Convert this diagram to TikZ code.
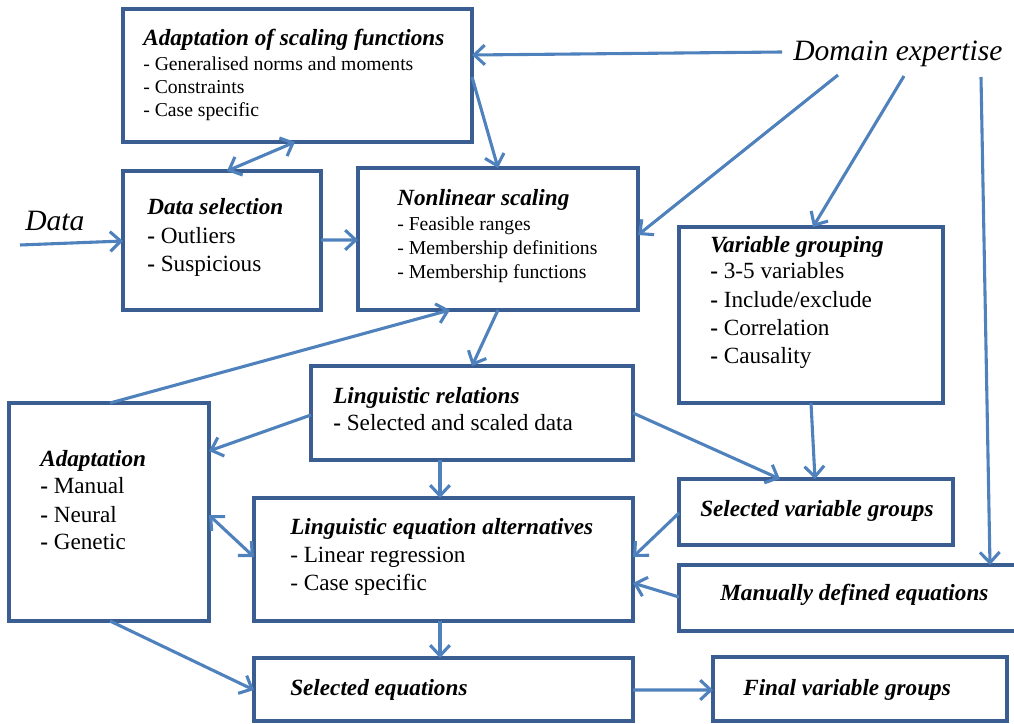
\documentclass[tikz,border=0pt]{standalone}
\usepackage{fontspec}
\setmainfont{Liberation Serif}
\usetikzlibrary{arrows.meta,calc,fit}
\definecolor{boxblue}{RGB}{58,94,145}
\definecolor{arrowblue}{RGB}{79,129,189}

\begin{document}
\begin{tikzpicture}[x=0.025cm,y=-0.025cm,
  >={Straight Barb[length=7.5pt,width=14pt]},
  box/.style={draw=boxblue,line width=2.6pt,inner sep=0pt,outer sep=0pt,fit={#1}},
  title/.style={anchor=base west,inner sep=0pt,font=\fontsize{16.5}{20}\selectfont\bfseries\itshape},
  item/.style={anchor=base west,inner sep=0pt,font=\fontsize{14}{17}\selectfont},
  bigitem/.style={anchor=base west,inner sep=0pt,font=\fontsize{16.5}{20}\selectfont},
  free/.style={anchor=base west,inner sep=0pt,font=\fontsize{21}{25}\selectfont\itshape},
  arr/.style={draw=arrowblue,line width=2.2pt,->},
  darr/.style={draw=arrowblue,line width=2.2pt,<->}]

% Frame
\useasboundingbox (0,0) rectangle (1014,724);
\clip (0,0) rectangle (1014,724);

% Adaptation of scaling functions
\node[box={(123,9) (472,142)}] (scal) {};
\node[title] (scalt) at (143,45) {Adaptation of scaling functions};
\foreach \y/\txt [count=\i] in {70/Generalised norms and moments,93/Constraints,116/Case specific}
  \node[item] (scal\i) at (143,\y) {- \txt};

% Data selection
\node[box={(123,171) (321,310)}] (dsel) {};
\node[title] (dselt) at (147,214) {Data selection};
\foreach \y/\txt [count=\i] in {243/Outliers,271/Suspicious}
  \node[bigitem] (dsel\i) at (147,\y) {\textbf{-} \txt};

% Nonlinear scaling
\node[box={(358,168) (638,310)}] (nlin) {};
\node[title] (nlint) at (397,205) {Nonlinear scaling};
\foreach \y/\txt [count=\i] in {230/Feasible ranges,254/Membership definitions,278/Membership functions}
  \node[item] (nlin\i) at (397,\y) {- \txt};

% Variable grouping
\node[box={(679,227) (943,403)}] (vgrp) {};
\node[title] (vgrpt) at (710,252) {Variable grouping};
\foreach \y/\txt [count=\i] in {278/3-5 variables,307/{Include/exclude},335/Correlation,363/Causality}
  \node[bigitem] (vgrp\i) at (710,\y) {\textbf{-} \txt};

% Linguistic relations
\node[box={(311,366) (633,460)}] (lrel) {};
\node[title] (lrelt) at (333,403) {Linguistic relations};
\node[bigitem] (lrel1) at (333,430) {\textbf{-} Selected and scaled data};

% Adaptation
\node[box={(9,403) (209,621)}] (adap) {};
\node[title] (adapt) at (40,466) {Adaptation};
\foreach \y/\txt [count=\i] in {493/Manual,522/Neural,549/Genetic}
  \node[bigitem] (adap\i) at (40,\y) {\textbf{-} \txt};

% Linguistic equation alternatives
\node[box={(254,498) (633,621)}] (leq) {};
\node[title] (leqt) at (290,534) {Linguistic equation alternatives};
\foreach \y/\txt [count=\i] in {562/Linear regression,590/Case specific}
  \node[bigitem] (leq\i) at (290,\y) {- \txt};

% Single line boxes
\node[box={(254,658) (633,721)}] (seq) {};
\node[title] (seqt) at (290,695) {Selected equations};
\node[box={(679,479) (953,545)}] (svg) {};
\node[title] (svgt) at (700,516) {Selected variable groups};
\node[box={(679,565) (1017,631)}] (mdeq) {};
\node[title] (mdeqt) at (720,600) {Manually defined equations};
\node[box={(713,657) (1007,721)}] (fvg) {};
\node[title] (fvgt) at (743,695) {Final variable groups};

% Inputs
\node[free] (dom) at (793,60) {Domain expertise};
\node[free] (data) at (25,230) {Data};

% Arrows
\draw[arr] ($(dom.base west)+(-11,-8)$) -- ($(scal.north east)+(0,46)$);
\draw[arr] ($(dom.base west)+(45,15)$) -- ($(nlin.north east)+(0,67)$);
\draw[arr] ($(dom.base west)+(111,16)$) -- ($(vgrp.north west)+(134,0)$);
\draw[arr] ($(dom.base west)+(188,17)$) -- ($(mdeq.north west)+(311,0)$);
\draw[arr] ($(data.base west)+(-5,15)$) -- ($(dsel.north west)+(0,70)$);
\draw[arr] ($(scal.north east)+(0,68)$) -- ($(nlin.north west)+(140,0)$);
\draw[darr] ($(scal.south west)+(172,0)$) -- ($(dsel.north west)+(104,0)$);
\draw[arr] ($(dsel.north east)+(0,69)$) -- ($(nlin.north west)+(0,72)$);
\draw[arr] ($(adap.north west)+(101,0)$) -- ($(nlin.south west)+(92,0)$);
\draw[arr] ($(nlin.south west)+(140,0)$) -- ($(lrel.north west)+(161,0)$);
\draw[arr] ($(lrel.north west)+(0,49)$) -- ($(adap.north east)+(0,48)$);
\draw[arr] ($(lrel.south west)+(129,0)$) -- ($(leq.north west)+(186,0)$);
\draw[darr] ($(adap.north east)+(0,112)$) -- ($(leq.north west)+(0,59)$);
\draw[arr] ($(lrel.north east)+(0,47)$) -- ($(svg.north west)+(101,0)$);
\draw[arr] ($(vgrp.south west)+(132,0)$) -- ($(svg.north west)+(136,0)$);
\draw[arr] ($(svg.north west)+(0,34)$) -- ($(leq.north east)+(0,59)$);
\draw[arr] ($(mdeq.north west)+(0,32)$) -- ($(leq.north east)+(0,85)$);
\draw[arr] ($(leq.south west)+(186,0)$) -- ($(seq.north west)+(186,0)$);
\draw[arr] ($(adap.south west)+(101,0)$) -- ($(seq.north west)+(0,32)$);
\draw[arr] ($(seq.north east)+(0,32)$) -- ($(fvg.north west)+(0,33)$);

\end{tikzpicture}
\end{document}
